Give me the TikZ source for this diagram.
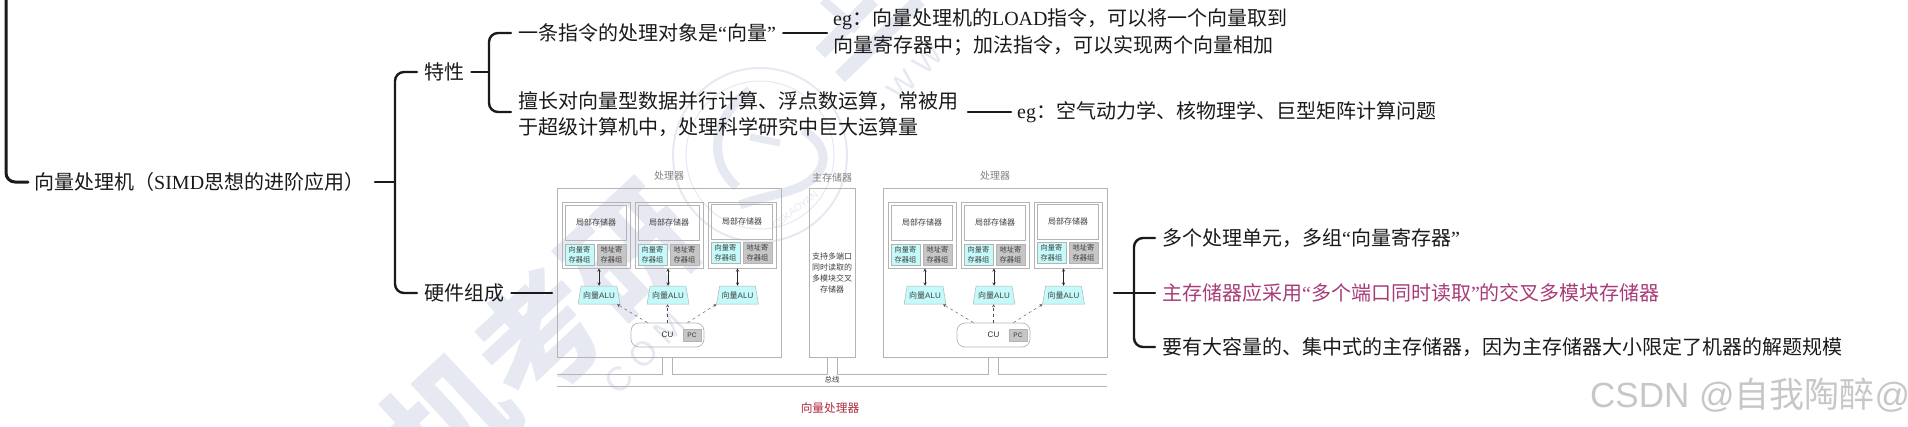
\documentclass[tikz,border=0pt]{standalone}
\usepackage{fontspec}
\usepackage{xcolor}
\usetikzlibrary{shapes.geometric}
\setmainfont{Noto Sans CJK SC}
\newfontfamily\latfont{Liberation Serif}
\newfontfamily\alufont{Liberation Sans}
\definecolor{wmlav}{HTML}{E6E8F2}
\definecolor{inkblack}{HTML}{1A1A1A}
\definecolor{boxgray}{HTML}{B4B4B4}
\definecolor{regcyan}{HTML}{C4FAFA}
\definecolor{reggray}{HTML}{C6C6C6}
\definecolor{notepink}{HTML}{A83B78}
\definecolor{capred}{HTML}{B02A3A}

\begin{document}
\begin{tikzpicture}[x=1pt,y=-1pt,>=stealth,
  txt/.style={anchor=west,inner ysep=0pt,inner xsep=7pt,align=left,text=inkblack,font=\fontsize{20}{26.5}\selectfont},
  branch/.style={draw=inkblack,line width=2.4pt,line cap=round,rounded corners=9pt},
  pebox/.style={draw=boxgray,line width=.7pt,minimum width=68pt,minimum height=66pt,inner sep=0pt,node distance=73pt},
  localbox/.style={draw=boxgray,line width=.7pt,minimum width=61pt,minimum height=35pt,inner sep=0pt,node distance=12.5pt,text=black!75,font=\fontsize{8}{10}\selectfont},
  vregbox/.style={draw=boxgray,fill=regcyan,line width=.5pt,minimum width=29pt,minimum height=21pt,inner sep=0pt,node distance=19.5pt,xshift=-16.5pt,align=center,text=black!75,font=\fontsize{7.2}{10}\selectfont},
  aregbox/.style={draw=boxgray,fill=reggray,line width=.5pt,minimum width=29pt,minimum height=21pt,inner sep=0pt,node distance=19.5pt,xshift=15.5pt,align=center,text=black!75,font=\fontsize{7.2}{10}\selectfont},
  alubox/.style={draw=boxgray,fill=regcyan,line width=.5pt,trapezium,trapezium left angle=70,trapezium right angle=70,trapezium stretches=true,minimum width=42pt,minimum height=18pt,inner sep=0pt,node distance=60pt,text=black!75,font=\fontsize{8}{10}\selectfont},
  cubox/.style={draw=boxgray,line width=.7pt,rounded corners=8pt,minimum width=73pt,minimum height=24pt,inner sep=0pt,text=black!85,font=\alufont\fontsize{8}{10}\selectfont},
  pcbox/.style={draw=boxgray,fill=reggray,line width=.5pt,minimum width=18pt,minimum height=12pt,inner sep=0pt,node distance=24.5pt,text=black!80,font=\alufont\fontsize{6.5}{8}\selectfont},
  procbox/.style={draw=boxgray,line width=.8pt,minimum width=224pt,minimum height=169pt,inner sep=0pt},
  diagtitle/.style={text=black!50,inner sep=0pt,font=\fontsize{10}{12}\selectfont},
  diagline/.style={draw=boxgray,line width=.8pt},
  dblarrow/.style={<->,line width=.5pt,draw=black!85},
  dasharrow/.style={->,dashed,line width=.4pt,draw=black!70},
  wmark/.style={text=wmlav,inner sep=0pt},
  wmstroke/.style={draw=wmlav,line width=9pt}]
  \useasboundingbox (0,0) rectangle (1908,426);

  % watermark
  \node (WMBIG) [wmark,rotate=43,font=\fontsize{124}{124}\selectfont\bfseries] at (448,421) {计算机考研};
  \node (SEAL) [circle,draw=wmlav,line width=2pt,minimum size=174pt] at (760,155) {};
  \node (SEALIN) [circle,draw=wmlav,line width=1pt,minimum size=148pt] at (760,155) {};
  \draw [wmstroke] (750,90) .. controls (715,115) and (705,160) .. (737,187);
  \draw [wmstroke] (803,130) .. controls (835,150) and (825,175) .. (800,187) .. controls (780,195) and (760,197) .. (740,205);
  \draw [wmstroke,line width=7pt] (750,137) -- (780,143);
  \draw [wmstroke,line width=14pt] (820,53) -- (873,0);
  \draw [wmstroke,line width=14pt] (840,77) -- (920,0);
  \draw [wmstroke] (823,0) -- (857,30);
  \node (SEALTXT) [wmark,rotate=38,font=\alufont\fontsize{10}{10}\selectfont] at (795,210) {CSKAOYAN};
  \node (WMCOM) [wmark,rotate=45,font=\alufont\fontsize{34}{34}\selectfont] at (645,353) {C O M};
  \node (WMWWW) [wmark,rotate=45,font=\alufont\fontsize{30}{30}\selectfont] at (915,72) {W W};

  % mind map text
  \node (VP) [txt,inner xsep=6pt] at (28,182) {向量处理机（{\latfont SIMD}思想的进阶应用）};
  \node (TX) [txt] at (417,72) {特性};
  \node (HW) [txt] at (417,293) {硬件组成};
  \node (OBJ) [txt] at (511,33) {一条指令的处理对象是{\latfont “}向量{\latfont ”}};
  \node (PAR) [txt,anchor=north west] at (511,91) {擅长对向量型数据并行计算、浮点数运算，常被用\\于超级计算机中，处理科学研究中巨大运算量};
  \node (EGA) [txt,inner xsep=6pt] at (827,32) {{\latfont eg}：向量处理机的{\latfont LOAD}指令，可以将一个向量取到\\向量寄存器中；加法指令，可以实现两个向量相加};
  \node (EGB) [txt,inner xsep=6pt] at (1011,112) {{\latfont eg}：空气动力学、核物理学、巨型矩阵计算问题};
  \node (MUL) [txt] at (1155,238) {多个处理单元，多组{\latfont “}向量寄存器{\latfont ”}};
  \node (MEMN) [txt,text=notepink] at (1155,293) {主存储器应采用{\latfont “}多个端口同时读取{\latfont ”}的交叉多模块存储器};
  \node (BIG) [txt] at (1155,347) {要有大容量的、集中式的主存储器，因为主存储器大小限定了机器的解题规模};
  \node (CSDN) [anchor=west,inner sep=0pt,text=black!22,font=\alufont\fontsize{35}{35}\selectfont] at (1590,395) {CSDN @{\rmfamily 自我陶醉}@};

  % mind map brackets
  \coordinate (TOPL) at (6,-3);
  \coordinate (J1) at (395,182);
  \coordinate (J2) at (489,72);
  \coordinate (J3) at (1134,293);
  \coordinate (VPOUT) at (375,182);
  \coordinate (HWOUT) at (552,293);
  \coordinate (RIN) at (1114,293);
  \coordinate (PAROUT) at (968,112);
  \coordinate (PARIN) at (511,112);
  \draw [branch,line width=3pt] (TOPL) |- (VP.west);
  \draw [branch] (VPOUT) -- (J1);
  \draw [branch] (TX.west) -| (J1) |- (HW.west);
  \draw [branch] (TX.east) -- (J2);
  \draw [branch] (OBJ.west) -| (J2) |- (PARIN);
  \draw [branch] (OBJ.east) -- (EGA.west |- OBJ.east);
  \draw [branch] (PAROUT) -- (EGB.west);
  \draw [branch] (HW.east) -- (HWOUT);
  \draw [branch] (RIN) -- (MEMN.west);
  \draw [branch] (MUL.west) -| (J3) |- (BIG.west);

  % processors and memory
  \node (PROCL) [procbox] at (669,272.5) {};
  \node (PROCR) [procbox] at (995,272.5) {};
  \node (MEM) [procbox,minimum width=46pt,align=center,text=black!75,font=\fontsize{8}{11}\selectfont] at (832,272.5) {支持多端口\\同时读取的\\多模块交叉\\存储器};
  \node (TPL) [diagtitle] at (669,176) {处理器};
  \node (TPM) [diagtitle] at (832,178) {主存储器};
  \node (TPR) [diagtitle] at (995,176) {处理器};

  \node (P1) [pebox] at (596,235) {};
  \node (P2) [pebox,right of=P1] {};
  \node (P3) [pebox,right of=P2] {};
  \node (P4) [pebox,right of=P1,node distance=326pt] {};
  \node (P5) [pebox,right of=P4] {};
  \node (P6) [pebox,right of=P5] {};

  \node (L1) [localbox,above of=P1] {局部存储器};
  \node (L2) [localbox,above of=P2] {局部存储器};
  \node (L3) [localbox,above of=P3,yshift=1pt] {局部存储器};
  \node (L4) [localbox,above of=P4] {局部存储器};
  \node (L5) [localbox,above of=P5] {局部存储器};
  \node (L6) [localbox,above of=P6,yshift=1pt] {局部存储器};

  \node (V1) [vregbox,below of=P1] {向量寄\\存器组};
  \node (V2) [vregbox,below of=P2] {向量寄\\存器组};
  \node (V3) [vregbox,below of=P3,yshift=1.5pt] {向量寄\\存器组};
  \node (V4) [vregbox,below of=P4] {向量寄\\存器组};
  \node (V5) [vregbox,below of=P5] {向量寄\\存器组};
  \node (V6) [vregbox,below of=P6,yshift=1.5pt] {向量寄\\存器组};

  \node (A1) [aregbox,below of=P1] {地址寄\\存器组};
  \node (A2) [aregbox,below of=P2] {地址寄\\存器组};
  \node (A3) [aregbox,below of=P3,yshift=1.5pt] {地址寄\\存器组};
  \node (A4) [aregbox,below of=P4] {地址寄\\存器组};
  \node (A5) [aregbox,below of=P5] {地址寄\\存器组};
  \node (A6) [aregbox,below of=P6,yshift=1.5pt] {地址寄\\存器组};

  \node (U1) [alubox,below of=P1,xshift=3pt] {向量{\alufont ALU}};
  \node (U2) [alubox,below of=P2,xshift=-1pt] {向量{\alufont ALU}};
  \node (U3) [alubox,below of=P3,xshift=-4.5pt] {向量{\alufont ALU}};
  \node (U4) [alubox,below of=P4,xshift=3pt] {向量{\alufont ALU}};
  \node (U5) [alubox,below of=P5,xshift=-1pt] {向量{\alufont ALU}};
  \node (U6) [alubox,below of=P6,xshift=-4.5pt] {向量{\alufont ALU}};

  \node (CUL) [cubox] at (667.5,335) {CU};
  \node (CUR) [cubox] at (993.5,335) {CU};
  \node (PCL) [pcbox,right of=CUL] {PC};
  \node (PCR) [pcbox,right of=CUR] {PC};

  \draw [dblarrow] (P1.south -| U1.north) -- (U1.north);
  \draw [dblarrow] (P2.south -| U2.north) -- (U2.north);
  \draw [dblarrow] (P3.south -| U3.north) -- (U3.north);
  \draw [dblarrow] (P4.south -| U4.north) -- (U4.north);
  \draw [dblarrow] (P5.south -| U5.north) -- (U5.north);
  \draw [dblarrow] (P6.south -| U6.north) -- (U6.north);

  \draw [dasharrow] ([xshift=-20pt]CUL.north) -- ([xshift=18pt]U1.south);
  \draw [dasharrow] (CUL.north) -- (U2.south -| CUL.north);
  \draw [dasharrow] ([xshift=20pt]CUL.north) -- ([xshift=-21pt]U3.south);
  \draw [dasharrow] ([xshift=-20pt]CUR.north) -- ([xshift=18pt]U4.south);
  \draw [dasharrow] (CUR.north) -- (U5.south -| CUR.north);
  \draw [dasharrow] ([xshift=20pt]CUR.north) -- ([xshift=-21pt]U6.south);

  % bus
  \coordinate (BUSA) at (557,374);
  \coordinate (BUSB) at (1107,374);
  \coordinate (BUSC) at (557,386);
  \coordinate (BUSD) at (1107,386);
  \draw [diagline] (BUSC) -- (BUSD);
  \draw [diagline] (BUSA) -- ([xshift=-7pt]PROCL.south |- BUSA) -- ([xshift=-7pt]PROCL.south);
  \draw [diagline] ([xshift=3pt]PROCL.south) -- ([xshift=3pt]PROCL.south |- BUSA) -- ([xshift=-5pt]MEM.south |- BUSA) -- ([xshift=-5pt]MEM.south);
  \draw [diagline] ([xshift=5pt]MEM.south) -- ([xshift=5pt]MEM.south |- BUSA) -- ([xshift=-7pt]PROCR.south |- BUSA) -- ([xshift=-7pt]PROCR.south);
  \draw [diagline] ([xshift=3pt]PROCR.south) -- ([xshift=3pt]PROCR.south |- BUSB) -- (BUSB);
  \node (BUSN) [fill=white,inner sep=.5pt,text=black!75,font=\fontsize{7.5}{9}\selectfont] at (832,380) {总线};
  \node (CAP) [inner sep=0pt,text=capred,font=\fontsize{11.7}{14}\selectfont] at (830,408) {向量处理器};
\end{tikzpicture}
\end{document}
